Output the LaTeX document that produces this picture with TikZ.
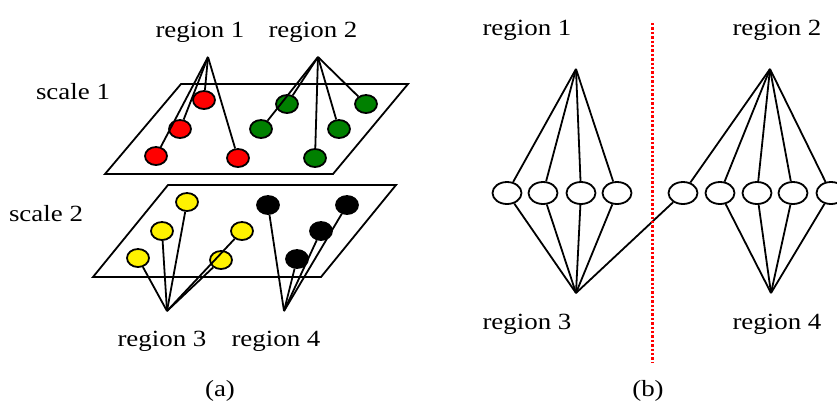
\documentclass[tikz,border=0pt]{standalone}
\usepackage{fontspec}
\setmainfont{Liberation Serif}[FakeStretch=1.16]
\usetikzlibrary{shapes.geometric}
\definecolor{dgreen}{RGB}{0,128,0}
\definecolor{dotred}{RGB}{255,0,0}
\begin{document}
\begin{tikzpicture}[x=0.5pt,y=-0.5pt,
  lbl/.style={anchor=base,inner sep=0pt,font=\fontsize{11.6}{13}\selectfont},
  dotA/.style={shape=ellipse,draw=black,line width=0.9pt,minimum width=11pt,minimum height=9pt,inner sep=0pt},
  dotB/.style={shape=ellipse,draw=black,fill=white,line width=0.9pt,minimum width=14.5pt,minimum height=11pt,inner sep=0pt},
  plane/.style={draw=black,line width=0.9pt},
  wire/.style={draw=black,line width=0.9pt}]
\useasboundingbox (0,0) rectangle (837,403);
% ---------- panel (a) ----------
\draw[plane] (181,84) -- (408,84) -- (333,174) -- (105,174) -- cycle;
\draw[plane] (168,185) -- (396,185) -- (321,277) -- (93,277) -- cycle;
\node[lbl] (tr1) at (200,37) {region 1};
\node[lbl] (tr2) at (313,37) {region 2};
\node[lbl] (ts1) at (73,99) {scale 1};
\node[lbl] (ts2) at (46,221) {scale 2};
\node[lbl] (tr3) at (162,346) {region 3};
\node[lbl] (tr4) at (276,346) {region 4};
\node[lbl] (ta) at (220,396) {(a)};
\coordinate (pa1) at (208,57);
\coordinate (pa2) at (318,57);
\coordinate (pa3) at (167,311);
\coordinate (pa4) at (284,311);
% red
\node[dotA,fill=red] (r1) at (204,100) {};
\node[dotA,fill=red] (r2) at (180,129) {};
\node[dotA,fill=red] (r3) at (156,156) {};
\node[dotA,fill=red] (r4) at (238,158) {};
% green
\node[dotA,fill=dgreen] (g1) at (287,104) {};
\node[dotA,fill=dgreen] (g2) at (261,129) {};
\node[dotA,fill=dgreen] (g3) at (315,158) {};
\node[dotA,fill=dgreen] (g4) at (339,129) {};
\node[dotA,fill=dgreen] (g5) at (366,104) {};
% yellow
\node[dotA,fill=yellow] (y1) at (187,202) {};
\node[dotA,fill=yellow] (y2) at (162,231) {};
\node[dotA,fill=yellow] (y3) at (138,258) {};
\node[dotA,fill=yellow] (y4) at (221,260) {};
\node[dotA,fill=yellow] (y5) at (242,231) {};
% black
\node[dotA,fill=black] (k1) at (268,205) {};
\node[dotA,fill=black] (k2) at (297,259) {};
\node[dotA,fill=black] (k3) at (321,231) {};
\node[dotA,fill=black] (k4) at (347,205) {};
\foreach \n in {r1,r2,r3,r4} \draw[wire] (pa1) -- (\n);
\foreach \n in {g1,g2,g3,g4,g5} \draw[wire] (pa2) -- (\n);
\foreach \n in {y1,y2,y3,y4,y5} \draw[wire] (pa3) -- (\n);
\foreach \n in {k1,k2,k3,k4} \draw[wire] (pa4) -- (\n);
% ---------- panel (b) ----------
\node[lbl] (br1) at (527,35) {region 1};
\node[lbl] (br2) at (777,35) {region 2};
\node[lbl] (br3) at (527,329) {region 3};
\node[lbl] (br4) at (777,329) {region 4};
\node[lbl] (tb) at (648,396) {(b)};
\coordinate (pb1) at (576,69);
\coordinate (pb2) at (770,69);
\coordinate (pb3) at (576,293);
\coordinate (pb4) at (771,293);
\foreach \i/\x in {1/507,2/543,3/581,4/617,5/683,6/720,7/757,8/793,9/831}
  \node[dotB] (e\i) at (\x,193) {};
\foreach \n in {e1,e2,e3,e4} \draw[wire] (pb1) -- (\n);
\foreach \n in {e5,e6,e7,e8,e9} \draw[wire] (pb2) -- (\n);
\foreach \n in {e1,e2,e3,e4,e5} \draw[wire] (pb3) -- (\n);
\foreach \n in {e6,e7,e8,e9} \draw[wire] (pb4) -- (\n);
\coordinate (sepT) at (652,23);
\coordinate (sepB) at (652,362);
\draw[dotred,line width=1.5pt,dash pattern=on 1.2pt off 1pt] (sepT) -- (sepB);
\end{tikzpicture}
\end{document}
